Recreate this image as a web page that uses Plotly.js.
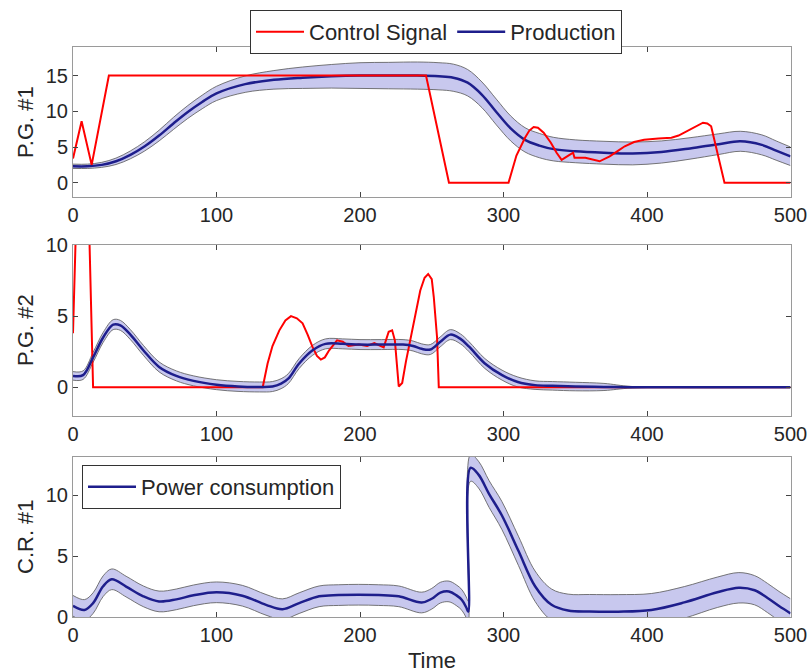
<!DOCTYPE html>
<html>
<head>
<meta charset="utf-8">
<script src="https://cdn.plot.ly/plotly-3.0.1.min.js"></script>
<style>html,body{margin:0;padding:0;background:#fff;}#chart{width:807px;height:672px;}</style>
</head>
<body>
<div id="chart"></div>
<script>
// ---------- Panel 1: P.G. #1 ----------
const t1 = [0, 10, 20, 30, 40, 50, 60, 70, 80, 90, 100, 120, 140, 160, 180, 200, 220, 240, 255, 265, 275, 285, 295, 305, 315, 325, 335, 350, 370, 390, 410, 430, 450, 465, 480, 490, 500];
const prod1 = [2.3, 2.3, 2.5, 3.0, 3.9, 5.1, 6.6, 8.3, 9.9, 11.3, 12.5, 13.8, 14.4, 14.7, 14.9, 15.0, 15.0, 15.0, 14.9, 14.7, 14.0, 12.3, 9.9, 7.6, 6.0, 5.2, 4.7, 4.4, 4.2, 4.1, 4.3, 4.8, 5.4, 5.8, 5.3, 4.5, 3.7];
const band1 = [0.3, 0.3, 0.35, 0.45, 0.55, 0.65, 0.75, 0.85, 0.9, 0.95, 1.0, 1.15, 1.3, 1.5, 1.65, 1.8, 1.85, 1.9, 1.9, 1.9, 1.85, 1.8, 1.8, 1.75, 1.7, 1.7, 1.65, 1.6, 1.6, 1.6, 1.55, 1.5, 1.45, 1.4, 1.4, 1.35, 1.3];
const tc1 = [0, 6, 13, 25, 246, 262, 303.5, 309, 315, 318, 321, 324, 328, 333, 337, 340.5, 346, 348.5, 349.5, 357, 367, 374, 380, 384.5, 391, 398, 408, 417, 422, 426, 432, 439, 442, 444.7, 454, 500];
const ctrl1 = [3.4, 8.6, 2.5, 15, 15, 0, 0, 3.8, 6.3, 7.3, 7.8, 7.7, 7.0, 5.6, 4.2, 3.2, 3.9, 4.2, 3.5, 3.5, 3.0, 3.7, 4.5, 5.1, 5.7, 6.0, 6.2, 6.3, 6.6, 7.0, 7.7, 8.4, 8.3, 7.9, 0, 0];

// ---------- Panel 2: P.G. #2 ----------
const t2 = [0, 7, 14, 21, 28, 33, 40, 49, 60, 72, 84, 100, 115, 130, 139, 145, 150, 157.6, 167, 176, 188, 200, 215, 230, 237, 243, 249, 256, 263, 270, 276, 287, 299, 310, 322, 334, 350, 370, 390, 500];
const prod2 = [0.8, 0.85, 2.1, 3.5, 4.4, 4.35, 3.7, 2.6, 1.43, 0.8, 0.45, 0.18, 0.06, 0.02, 0.05, 0.25, 0.6, 1.67, 2.6, 3.05, 3.05, 3.0, 3.0, 3.0, 2.9, 2.7, 2.65, 3.2, 3.7, 3.4, 2.85, 1.67, 0.85, 0.37, 0.15, 0.1, 0.05, 0.02, 0.0, 0.0];
const band2 = [0.3, 0.3, 0.35, 0.35, 0.35, 0.35, 0.35, 0.35, 0.35, 0.35, 0.35, 0.35, 0.35, 0.35, 0.35, 0.35, 0.35, 0.35, 0.35, 0.35, 0.35, 0.35, 0.35, 0.35, 0.35, 0.35, 0.35, 0.35, 0.35, 0.35, 0.35, 0.35, 0.35, 0.35, 0.3, 0.3, 0.3, 0.25, 0.05, 0.0];
const tc2 = [0, 1, 2, 11.3, 14, 132.2, 135.6, 139, 143.8, 148, 151.9, 156, 160, 163.5, 166.9, 170, 172.7, 175.5, 178.5, 184, 188, 192, 199, 205, 210, 216.5, 220, 222.4, 224.3, 227, 229.4, 232, 236.3, 242, 245, 247.5, 250, 251.4, 253.7, 254.9, 500];
const ctrl2 = [3.8, 8, 11, 11, 0, 0, 1.67, 2.9, 4.0, 4.7, 5.0, 4.85, 4.5, 3.7, 2.84, 2.2, 1.95, 2.1, 2.6, 3.3, 3.2, 2.9, 3.0, 2.9, 3.1, 2.8, 3.9, 4.0, 3.3, 0.05, 0.3, 1.8, 4.0, 6.8, 7.7, 7.96, 7.6, 6.36, 3.5, 0, 0];

// ---------- Panel 3: C.R. #1 ----------
const t3 = [0, 8, 14, 21, 27, 37, 49, 60, 72, 84, 100, 118, 134.5, 146, 157.6, 171.5, 185, 199, 213, 227, 243, 250, 256, 262, 267, 271, 274, 275.5, 277, 282.6, 290, 298.8, 310.4, 322, 333.5, 345, 360, 380, 403, 426, 449, 464, 475, 484, 492, 500];
const power3 = [0.92, 0.58, 1.14, 2.53, 3.1, 2.5, 1.7, 1.28, 1.45, 1.78, 2.03, 1.75, 1.0, 0.64, 1.14, 1.7, 1.8, 1.83, 1.8, 1.7, 1.19, 1.5, 2.0, 2.1, 1.8, 1.4, 0.8, 0.44, 12.25, 11.7, 10.1, 8.36, 5.44, 2.53, 1.0, 0.53, 0.45, 0.44, 0.58, 1.2, 2.03, 2.4, 2.2, 1.56, 0.9, 0.3];
const band3 = [0.85, 0.85, 0.85, 0.85, 0.85, 0.85, 0.85, 0.85, 0.85, 0.85, 0.85, 0.85, 0.85, 0.85, 0.85, 0.85, 0.85, 0.85, 0.85, 0.85, 0.85, 0.85, 0.85, 0.85, 0.85, 0.85, 0.85, 0.85, 1.1, 1.1, 1.1, 1.15, 1.2, 1.25, 1.3, 1.35, 1.4, 1.4, 1.35, 1.3, 1.25, 1.25, 1.2, 1.2, 1.2, 1.2];

// ---------- labels ----------
const xTicks = [0, 100, 200, 300, 400, 500];
const yTicks1 = [0, 5, 10, 15];
const yTicks2 = [0, 5, 10];
const yTicks3 = [0, 5, 10];
const yLabels = ['P.G. #1', 'P.G. #2', 'C.R. #1'];
const xLabel = 'Time';
const names = ['Control Signal', 'Production', 'Power consumption'];

// ---------- styles ----------
const RED = '#ff0000';
const BLUE = 'rgb(30,30,140)';
const FILL = 'rgb(200,200,238)';
const EDGE = 'rgba(95,95,95,0.85)';
const W = 807, H = 672;
const XD = [73 / W, 790.5 / W];
const px2y = p => 1 - p / H;

function band(t, m, hw, xa, ya) {
  const lo = m.map((v, i) => v - hw[i]);
  const hi = m.map((v, i) => v + hw[i]);
  return [
    {x: t, y: lo, xaxis: xa, yaxis: ya, mode: 'lines', line: {color: EDGE, width: 1, shape: 'spline', smoothing: 1}, showlegend: false, hoverinfo: 'skip'},
    {x: t, y: hi, xaxis: xa, yaxis: ya, mode: 'lines', fill: 'tonexty', fillcolor: FILL, line: {color: EDGE, width: 1, shape: 'spline', smoothing: 1}, showlegend: false, hoverinfo: 'skip'}
  ];
}

const traces = [].concat(
  band(t1, prod1, band1, 'x', 'y'),
  [{x: t1, y: prod1, xaxis: 'x', yaxis: 'y', mode: 'lines', name: names[1], legend: 'legend', legendrank: 2, line: {color: BLUE, width: 2.5, shape: 'spline', smoothing: 1}}],
  [{x: tc1, y: ctrl1, xaxis: 'x', yaxis: 'y', mode: 'lines', name: names[0], legend: 'legend', legendrank: 1, line: {color: RED, width: 2}}],
  band(t2, prod2, band2, 'x2', 'y2'),
  [{x: tc2, y: ctrl2, xaxis: 'x2', yaxis: 'y2', mode: 'lines', showlegend: false, line: {color: RED, width: 2}}],
  [{x: t2, y: prod2, xaxis: 'x2', yaxis: 'y2', mode: 'lines', showlegend: false, line: {color: BLUE, width: 2.5, shape: 'spline', smoothing: 1}}],
  band(t3, power3, band3, 'x3', 'y3'),
  [{x: t3, y: power3, xaxis: 'x3', yaxis: 'y3', mode: 'lines', name: names[2], legend: 'legend2', line: {color: BLUE, width: 2.5, shape: 'spline', smoothing: 1}}]
);

function xax(anchor) {
  return {domain: XD, anchor: anchor, range: [0, 500], tickvals: xTicks, ticks: 'inside', ticklen: 5, tickcolor: '#444',
    showline: true, linecolor: '#9a9a9a', linewidth: 1, mirror: 'allticks', showgrid: false, zeroline: false,
    ticklabeloverflow: 'allow', tickfont: {size: 20, color: '#262626'}, fixedrange: true};
}
function yax(anchor, dom, range, tv) {
  return {domain: dom, anchor: anchor, range: range, tickvals: tv, ticks: 'inside', ticklen: 5, tickcolor: '#444',
    showline: true, linecolor: '#9a9a9a', linewidth: 1, mirror: 'allticks', showgrid: false, zeroline: false,
    ticklabeloverflow: 'allow', tickfont: {size: 20, color: '#262626'}, fixedrange: true};
}

const layout = {
  width: W, height: H,
  margin: {l: 0, r: 0, t: 0, b: 0},
  paper_bgcolor: '#fff', plot_bgcolor: '#fff',
  font: {family: '"Liberation Sans", Arial, sans-serif', size: 20, color: '#262626'},
  showlegend: true,
  xaxis: xax('y'),
  xaxis2: xax('y2'),
  xaxis3: xax('y3'),
  yaxis: yax('x', [px2y(197), px2y(47)], [-2, 19], yTicks1),
  yaxis2: yax('x2', [px2y(415.7), px2y(245)], [-2, 10], yTicks2),
  yaxis3: yax('x3', [px2y(617), px2y(457)], [0, 13.15], yTicks3),
  legend: {x: 436 / W, xanchor: 'center', y: px2y(10), yanchor: 'top', orientation: 'h',
    bgcolor: '#fff', bordercolor: '#333', borderwidth: 1, font: {size: 22, color: '#262626'}, itemwidth: 48, traceorder: 'normal'},
  legend2: {x: 82 / W, xanchor: 'left', y: px2y(465), yanchor: 'top', orientation: 'v',
    bgcolor: '#fff', bordercolor: '#333', borderwidth: 1, font: {size: 22, color: '#262626'}, itemwidth: 48},
  annotations: [
    {text: yLabels[0], xref: 'paper', yref: 'paper', x: 25 / W, y: px2y(122), textangle: -90, showarrow: false, font: {size: 22, color: '#262626'}, xanchor: 'center', yanchor: 'middle'},
    {text: yLabels[1], xref: 'paper', yref: 'paper', x: 25 / W, y: px2y(330), textangle: -90, showarrow: false, font: {size: 22, color: '#262626'}, xanchor: 'center', yanchor: 'middle'},
    {text: yLabels[2], xref: 'paper', yref: 'paper', x: 25 / W, y: px2y(537), textangle: -90, showarrow: false, font: {size: 22, color: '#262626'}, xanchor: 'center', yanchor: 'middle'},
    {text: xLabel, xref: 'paper', yref: 'paper', x: 432 / W, y: px2y(660), showarrow: false, font: {size: 22, color: '#262626'}, xanchor: 'center', yanchor: 'middle'}
  ]
};

Plotly.newPlot('chart', traces, layout, {displayModeBar: false, staticPlot: true});
</script>
</body>
</html>
